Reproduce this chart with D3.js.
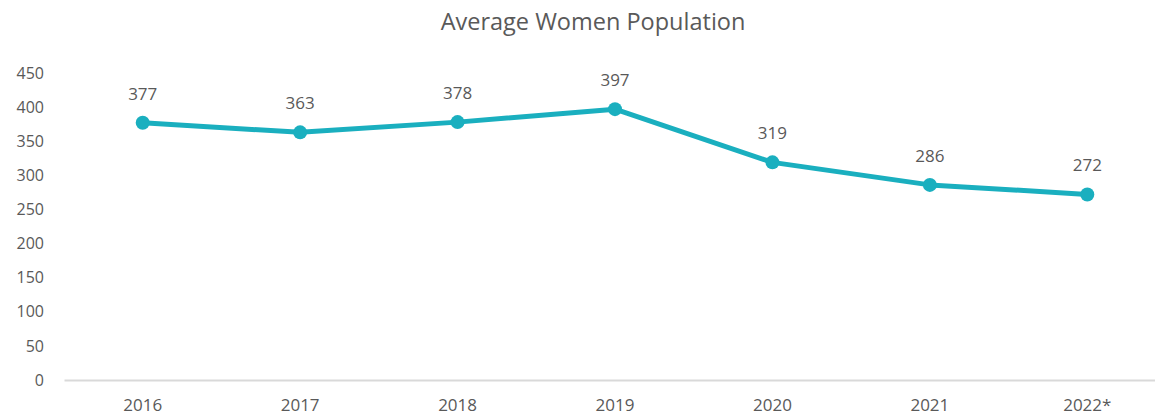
<!DOCTYPE html>
<html>
<head>
<meta charset="utf-8">
<script src="https://cdn.jsdelivr.net/npm/d3@7"></script>
<style>
  body { margin: 0; background: #fff; }
  svg text { font-family: "Open Sans", "Noto Sans", sans-serif; fill: #595959; }
</style>
</head>
<body>
<div id="chart"></div>
<script>
// data
var years = ["2016", "2017", "2018", "2019", "2020", "2021", "2022*"];
var women = [377, 363, 378, 397, 319, 286, 272];
var yTicks = [0, 50, 100, 150, 200, 250, 300, 350, 400, 450];

var W = 1155, H = 419;
var lineColor = "#1aafbf";

var svg = d3.select("#chart")
  .append("svg")
  .attr("width", W)
  .attr("height", H);

var x = d3.scaleBand()
  .domain(years)
  .range([64, 1166]);

var y = d3.scaleLinear()
  .domain([0, 450])
  .range([380, 73]);

// title
svg.append("text")
  .attr("x", 593)
  .attr("y", 30)
  .attr("text-anchor", "middle")
  .style("font-size", "23.5px")
  .text("Average Women Population");

// y axis labels (no line)
var yAxis = svg.append("g")
  .attr("transform", "translate(44,0)")
  .call(d3.axisLeft(y).tickValues(yTicks).tickSize(0).tickPadding(0));
yAxis.select(".domain").remove();
yAxis.selectAll("text")
  .style("font-size", "16px")
  .attr("fill", null);

// x axis
var xAxis = svg.append("g")
  .attr("transform", "translate(0,380)")
  .call(d3.axisBottom(x).tickSize(0).tickPadding(19));
xAxis.select(".domain").attr("stroke", "#d9d9d9").attr("stroke-width", 2);
xAxis.selectAll("text")
  .style("font-size", "17px")
  .attr("fill", null);

var data = years.map(function(d, i) { return { year: d, value: women[i] }; });

var line = d3.line()
  .x(function(d) { return x(d.year) + x.bandwidth() / 2; })
  .y(function(d) { return y(d.value); });

svg.append("path")
  .datum(data)
  .attr("d", line)
  .attr("fill", "none")
  .attr("stroke", lineColor)
  .attr("stroke-width", 5)
  .attr("stroke-linejoin", "round");

svg.selectAll(".dot")
  .data(data)
  .enter()
  .append("circle")
    .attr("cx", function(d) { return x(d.year) + x.bandwidth() / 2; })
    .attr("cy", function(d) { return y(d.value); })
    .attr("r", 7)
    .attr("fill", lineColor);

svg.selectAll(".lbl")
  .data(data)
  .enter()
  .append("text")
    .attr("x", function(d) { return x(d.year) + x.bandwidth() / 2; })
    .attr("y", function(d) { return y(d.value) - 23; })
    .attr("text-anchor", "middle")
    .style("font-size", "17px")
    .text(function(d) { return d.value; });
</script>
</body>
</html>
